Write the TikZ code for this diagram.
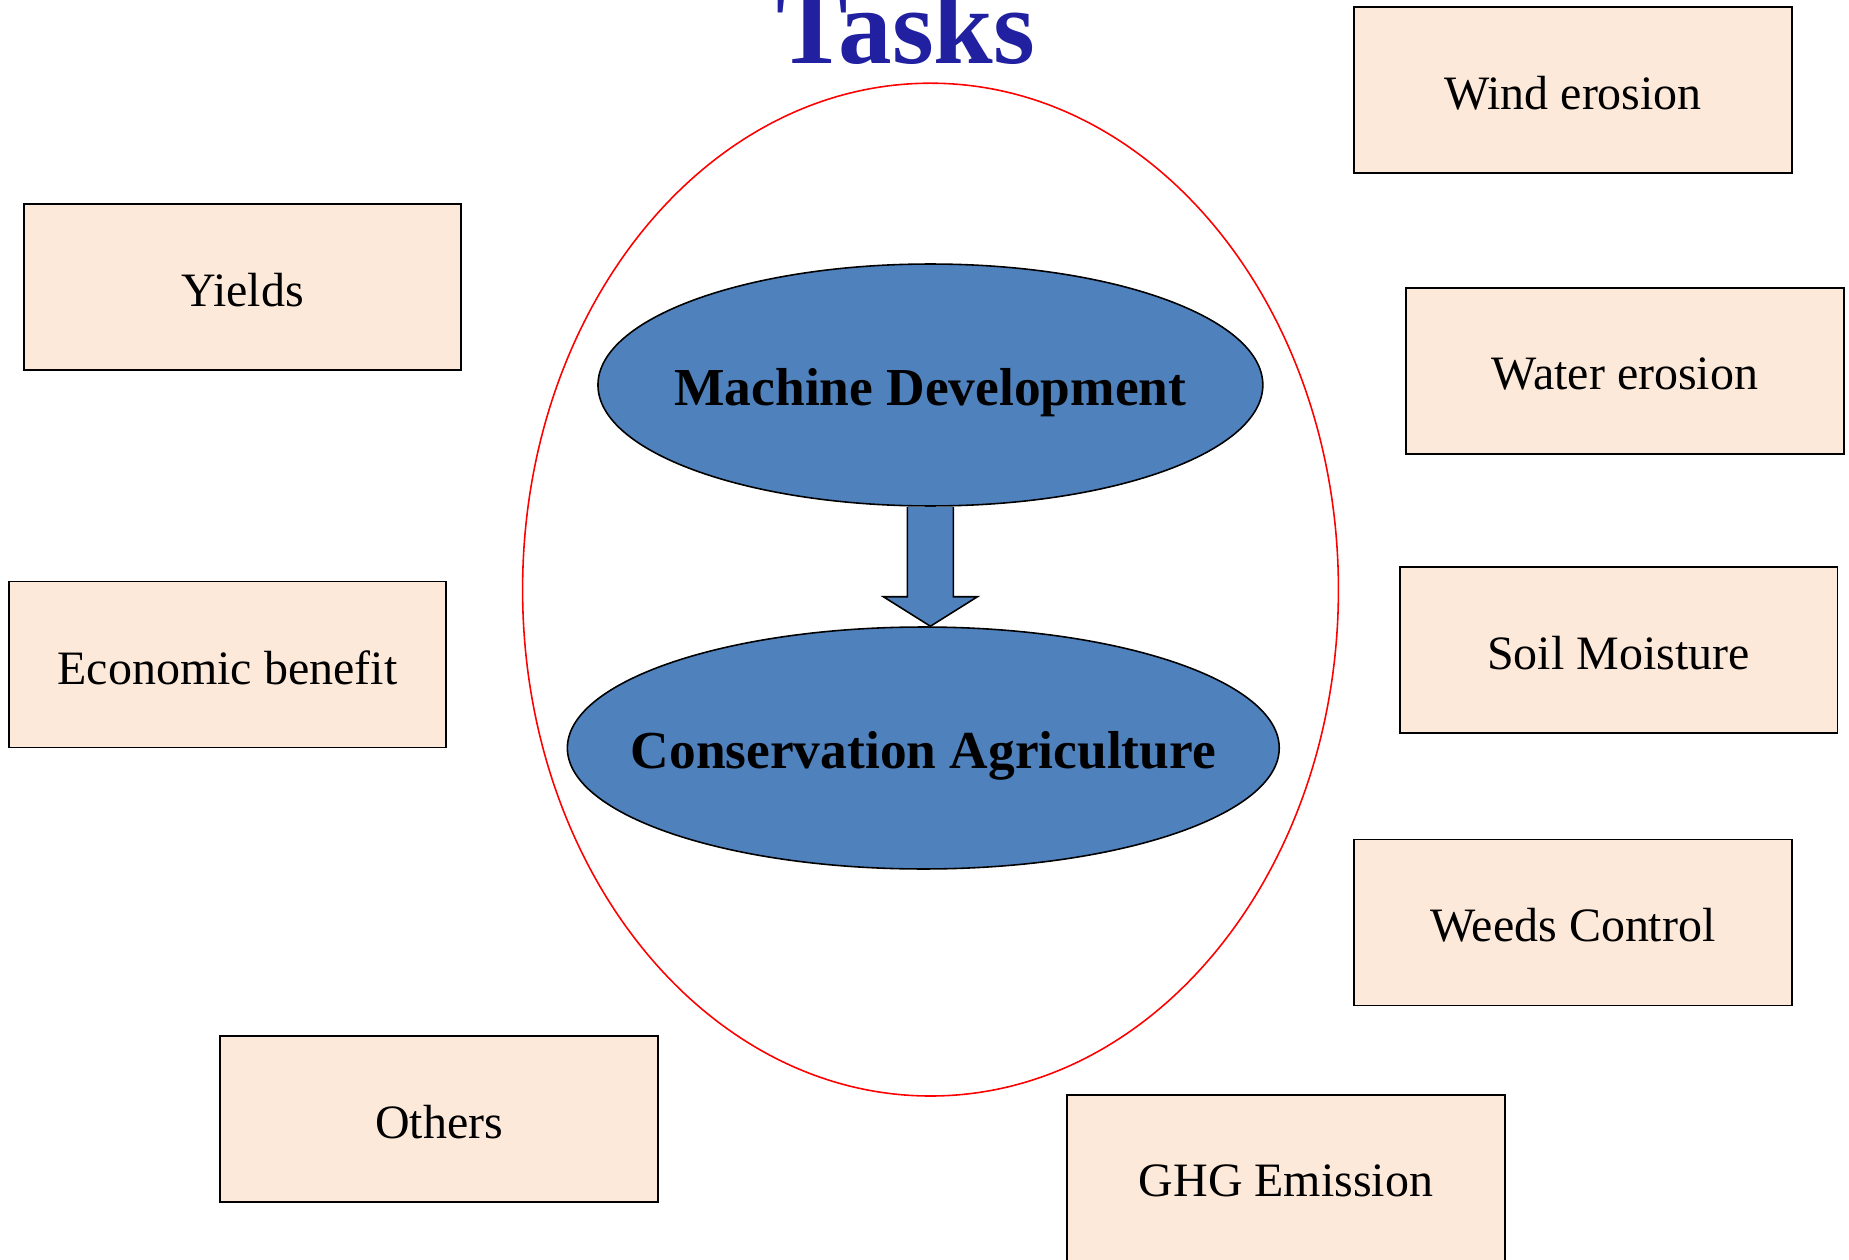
\documentclass[tikz,border=0pt]{standalone}
\usepackage{fontspec}
\setmainfont{Liberation Serif}
\usetikzlibrary{shapes.geometric,calc}
\definecolor{titleblue}{RGB}{32,32,160}
\definecolor{ovalblue}{HTML}{4F81BD}
\definecolor{boxpeach}{HTML}{FDE9D9}
\tikzset{
  taskbox/.style={draw=black, line width=1.1pt, fill=boxpeach, rectangle,
    minimum width=8.76cm, minimum height=3.32cm, inner sep=0pt},
  boxtext/.style={font=\fontsize{27.3}{32}\selectfont, yshift=-0.06cm},
  oval/.style={draw=black, line width=0.9pt, fill=ovalblue, ellipse, inner sep=0pt},
  ovaltext/.style={font=\fontsize{30.4}{36}\selectfont\bfseries, yshift=-0.16cm},
  flowarrow/.style={draw=black, line width=0.9pt, fill=ovalblue, line join=miter}
}
\begin{document}
\begin{tikzpicture}[x=0.02cm, y=-0.02cm]
  \useasboundingbox (0,0) rectangle (1849,1260);

  % title
  \node[anchor=base, text=titleblue, font=\fontsize{61}{66}\selectfont\bfseries, inner sep=0pt]
    (title) at (906,64) {Tasks};

  % enclosing red oval
  \node[draw=red, line width=0.9pt, ellipse, minimum width=16.32cm, minimum height=20.26cm, inner sep=0pt]
    (ring) at (930.5,589.6) {};

  % the two central ovals
  \node[oval, minimum width=13.3cm, minimum height=4.84cm] (md) at (930.4,385) {};
  \node[ovaltext] at (md) {Machine Development};
  \node[oval, minimum width=14.24cm, minimum height=4.84cm] (ca) at (923.3,748) {};
  \node[ovaltext] at (ca) {Conservation Agriculture};

  % block arrow from the upper oval to the lower one
  \coordinate (tip) at (md.south |- ca.north);
  \filldraw[flowarrow]
    ($(md.south)+(-23,0)$) -- ($(md.south)+(-23,90)$) -- ($(md.south)+(-47,90)$)
    -- (tip) -- ($(md.south)+(47,90)$) -- ($(md.south)+(23,90)$) -- ($(md.south)+(23,0)$);

  % surrounding topic boxes
  \node[taskbox] (yields)   at (242.5,287)  {};
  \node[taskbox] (econ)     at (227.5,664.5) {};
  \node[taskbox] (others)   at (439,1119)   {};
  \node[taskbox] (ghg)      at (1286,1178)  {};
  \node[taskbox] (weeds)    at (1573,922.5) {};
  \node[taskbox] (moisture) at (1618.5,650) {};
  \node[taskbox] (water)    at (1625,371)   {};
  \node[taskbox] (wind)     at (1573,90)    {};

  \node[boxtext] at (yields)   {Yields};
  \node[boxtext] at (econ)     {Economic benefit};
  \node[boxtext] at (others)   {Others};
  \node[boxtext] at (ghg)      {GHG Emission};
  \node[boxtext] at (weeds)    {Weeds Control};
  \node[boxtext] at (moisture) {Soil Moisture};
  \node[boxtext] at (water)    {Water erosion};
  \node[boxtext] at (wind)     {Wind erosion};
\end{tikzpicture}
\end{document}
